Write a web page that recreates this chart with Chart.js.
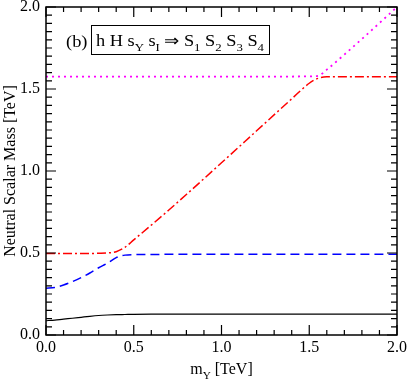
<!DOCTYPE html>
<html>
<head>
<meta charset="utf-8">
<script src="https://cdn.jsdelivr.net/npm/chart.js@4.4.1/dist/chart.umd.min.js"></script>
<style>
html, body { margin: 0; padding: 0; background: #fff; }
#wrap { width: 409px; height: 382px; position: relative; }
</style>
</head>
<body>
<div id="wrap"><canvas id="masas"></canvas></div>
<script>
/* DATOS */
const mY = [0, 0.05, 0.1, 0.15, 0.2, 0.25, 0.3, 0.35, 0.4, 0.45, 0.5, 0.6, 0.7, 0.8, 1.0, 1.2, 1.4, 1.5, 1.55, 1.6, 1.7, 1.8, 1.9, 2.0];
const S1 = [0.087, 0.091, 0.097, 0.102, 0.108, 0.114, 0.119, 0.122, 0.124, 0.125, 0.126, 0.127, 0.127, 0.127, 0.127, 0.127, 0.127, 0.127, 0.127, 0.127, 0.127, 0.127, 0.127, 0.127];
const S2 = [0.285, 0.29, 0.305, 0.325, 0.35, 0.378, 0.41, 0.438, 0.472, 0.487, 0.49, 0.491, 0.492, 0.492, 0.492, 0.492, 0.492, 0.492, 0.492, 0.492, 0.492, 0.492, 0.492, 0.492];
const S3 = [0.497, 0.497, 0.497, 0.497, 0.497, 0.497, 0.498, 0.5, 0.508, 0.535, 0.58, 0.67, 0.762, 0.857, 1.05, 1.245, 1.44, 1.535, 1.565, 1.574, 1.575, 1.575, 1.575, 1.575];
const S4 = [1.575, 1.575, 1.575, 1.575, 1.575, 1.575, 1.575, 1.575, 1.575, 1.575, 1.575, 1.575, 1.575, 1.575, 1.575, 1.575, 1.576, 1.577, 1.58, 1.618, 1.71, 1.805, 1.902, 2.0];

const xTickLabels = ['0.0', '0.5', '1.0', '1.5', '2.0'];
const yTickLabels = ['0.0', '0.5', '1.0', '1.5', '2.0'];

const FUENTE = 'Liberation Serif';

function puntos(serie) {
  return mY.map((x, i) => ({ x: x, y: serie[i] }));
}

function linea(serie, color, dash, ancho) {
  return {
    data: puntos(serie),
    borderColor: color,
    borderWidth: ancho,
    borderDash: dash,
    pointRadius: 0,
    showLine: true,
    fill: false,
    cubicInterpolationMode: 'monotone'
  };
}

/* texto con subindices */
function textoSub(ctx, partes, x, y, tam) {
  let cx = x;
  partes.forEach(p => {
    const sub = p[1];
    ctx.font = (sub ? tam * 0.7 : tam) + 'px "' + FUENTE + '"';
    ctx.fillText(p[0], cx, sub ? y + tam * 0.3 : y);
    cx += ctx.measureText(p[0]).width;
  });
  return cx - x;
}

function anchoSub(ctx, partes, tam) {
  let w = 0;
  partes.forEach(p => {
    ctx.font = (p[1] ? tam * 0.7 : tam) + 'px "' + FUENTE + '"';
    w += ctx.measureText(p[0]).width;
  });
  return w;
}

/* marco, ticks hacia dentro y textos */
const marco = {
  id: 'marco',
  afterDraw(chart) {
    const ctx = chart.ctx;
    const a = chart.chartArea;
    const sx = chart.scales.x, sy = chart.scales.y;
    ctx.save();
    ctx.strokeStyle = '#000';
    ctx.lineWidth = 1.5;
    ctx.strokeRect(a.left, a.top, a.right - a.left, a.bottom - a.top);
    ctx.lineWidth = 1.2;
    sx.ticks.forEach((t, i) => {
      const px = sx.getPixelForValue(t.value);
      const L = i % 5 === 0 ? 10 : 5;
      ctx.beginPath();
      ctx.moveTo(px, a.bottom); ctx.lineTo(px, a.bottom - L);
      ctx.moveTo(px, a.top); ctx.lineTo(px, a.top + L);
      ctx.stroke();
    });
    sy.ticks.forEach((t, i) => {
      const py = sy.getPixelForValue(t.value);
      const L = i % 10 === 0 ? 10 : 6;
      ctx.beginPath();
      ctx.moveTo(a.left, py); ctx.lineTo(a.left + L, py);
      ctx.moveTo(a.right, py); ctx.lineTo(a.right - L, py);
      ctx.stroke();
    });

    ctx.fillStyle = '#000';
    ctx.textBaseline = 'alphabetic';

    /* titulo eje x */
    const tx = [['m', false], ['Y', true], [' [TeV]', false]];
    const wx = anchoSub(ctx, tx, 16);
    textoSub(ctx, tx, (a.left + a.right) / 2 - wx / 2, 374, 16);

    /* titulo eje y */
    ctx.save();
    ctx.translate(15, (a.top + a.bottom) / 2);
    ctx.rotate(-Math.PI / 2);
    ctx.font = '16px "' + FUENTE + '"';
    ctx.textAlign = 'center';
    ctx.fillText('Neutral Scalar Mass [TeV]', 0, 0);
    ctx.restore();

    /* etiqueta (b) y recuadro */
    ctx.save();
    ctx.translate(66, 47);
    ctx.scale(1.15, 1);
    ctx.font = '16px "' + FUENTE + '"';
    ctx.fillText('(b)', 0, 0);
    ctx.restore();

    const te = [['h H s', false], ['Y', true], [' s', false], ['I', true], [' \u21D2 S', false], ['1', true],
                [' S', false], ['2', true], [' S', false], ['3', true], [' S', false], ['4', true]];
    const we = anchoSub(ctx, te, 16);
    ctx.lineWidth = 1;
    ctx.strokeRect(91.5, 25.5, 178, 29);
    ctx.save();
    ctx.translate(96, 46);
    ctx.scale(168 / we, 1);
    textoSub(ctx, te, 0, 0, 16);
    ctx.restore();
    ctx.restore();
  }
};

const ctx1 = document.getElementById('masas');

new Chart(ctx1, {
  type: 'scatter',
  data: {
    datasets: [
      linea(S1, '#000000', [], 1.2),
      linea(S2, '#0000ff', [9, 5], 1.5),
      linea(S3, '#ff0000', [9, 3, 2, 3], 1.5),
      linea(S4, '#ff00ff', [2, 4], 1.8)
    ]
  },
  options: {
    responsive: true,
    maintainAspectRatio: false,
    animation: false,
    layout: { padding: { top: 7, right: 12, left: 0, bottom: 0 } },
    plugins: { legend: { display: false }, tooltip: { enabled: false } },
    scales: {
      x: {
        type: 'linear',
        min: 0, max: 2,
        grid: { display: false, drawTicks: false },
        border: { display: false },
        afterFit: s => { s.height = 47; s.paddingLeft = 0; s.paddingRight = 0; },
        ticks: {
          stepSize: 0.1,
          autoSkip: false,
          maxRotation: 0,
          padding: 3,
          color: '#000',
          font: { family: FUENTE, size: 16 },
          callback: (v, i) => i % 5 === 0 ? xTickLabels[i / 5] : ''
        }
      },
      y: {
        type: 'linear',
        min: 0, max: 2,
        grid: { display: false, drawTicks: false },
        border: { display: false },
        afterFit: s => { s.width = 46; s.paddingTop = 0; s.paddingBottom = 0; },
        ticks: {
          stepSize: 0.05,
          autoSkip: false,
          padding: 6,
          color: '#000',
          font: { family: FUENTE, size: 16 },
          callback: (v, i) => i % 10 === 0 ? yTickLabels[i / 10] : ''
        }
      }
    }
  },
  plugins: [marco]
});
</script>
</body>
</html>
